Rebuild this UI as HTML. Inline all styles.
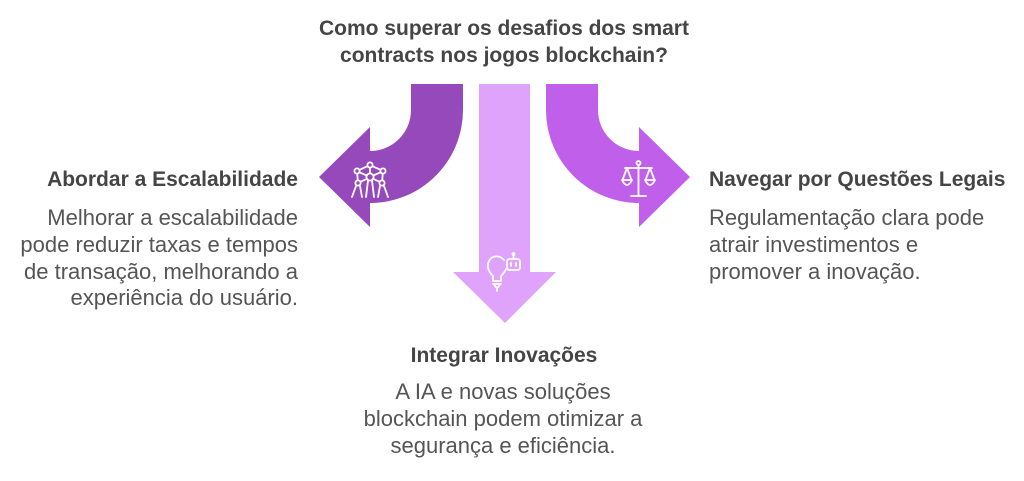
<!DOCTYPE html>
<html>
<head>
<meta charset="utf-8">
<style>
  html, body { margin: 0; padding: 0; background: #ffffff; }
  body { width: 1024px; height: 481px; overflow: hidden; }
  svg { display: block; }
  .t { font-family: "Liberation Sans", Arial, sans-serif; }
  .title { font-size: 21px; font-weight: bold; fill: #454545; }
  .head { font-size: 21px; font-weight: bold; fill: #454545; }
  .body { font-size: 22px; fill: #555555; }
</style>
</head>
<body>
<svg width="1024" height="481" viewBox="0 0 1024 481" xmlns="http://www.w3.org/2000/svg">
  <rect width="1024" height="481" fill="#ffffff"/>

  <!-- Title -->
  <text class="t title" x="504" y="35" text-anchor="middle">Como superar os desafios dos smart</text>
  <text class="t title" x="504" y="62" text-anchor="middle">contracts nos jogos blockchain?</text>

  <!-- Left arrow -->
  <path d="M411,84 H463 V110 A93,93 0 0 1 370,203 V227 L319,177 L370,127 V151 A41,41 0 0 0 411,110 Z" fill="#9549BA"/>
  <!-- Middle arrow -->
  <path d="M479,84 H530 V272 H556 L505,323 L453,272 H479 Z" fill="#E0A3FC"/>
  <!-- Right arrow -->
  <path d="M598,84 H546 V110 A93,93 0 0 0 639,203 V227 L690,177 L639,127 V151 A41,41 0 0 1 598,110 Z" fill="#C060EA"/>

  <!-- People / atomium icon -->
  <g fill="none" stroke="#ffffff" stroke-width="1.8" stroke-linecap="round" stroke-linejoin="round">
    <circle cx="370" cy="165" r="2.6"/>
    <circle cx="357" cy="171" r="2.6"/>
    <circle cx="383" cy="171" r="2.6"/>
    <circle cx="370" cy="177" r="3.6"/>
    <circle cx="358" cy="183" r="2.6"/>
    <circle cx="382" cy="183" r="2.6"/>
    <line x1="367.7" y1="166.2" x2="359.4" y2="169.8"/>
    <line x1="372.3" y1="166.2" x2="380.6" y2="169.8"/>
    <line x1="370" y1="167.6" x2="370" y2="173.4"/>
    <line x1="359.4" y1="172.3" x2="366.8" y2="175.5"/>
    <line x1="380.6" y1="172.3" x2="373.2" y2="175.5"/>
    <line x1="357.3" y1="173.6" x2="357.7" y2="180.4"/>
    <line x1="382.7" y1="173.6" x2="382.3" y2="180.4"/>
    <line x1="360.4" y1="181.8" x2="366.9" y2="178.8"/>
    <line x1="379.6" y1="181.8" x2="373.1" y2="178.8"/>
    <path d="M356,186 L352,197 M360,186 L362,197"/>
    <path d="M384,186 L388,197 M380,186 L378,197"/>
    <path d="M368,180.5 L366,197 M372,180.5 L374,197"/>
  </g>

  <!-- Scale icon -->
  <g fill="none" stroke="#ffffff" stroke-width="1.8" stroke-linecap="round" stroke-linejoin="round">
    <circle cx="638.5" cy="163" r="2"/>
    <line x1="638.5" y1="165" x2="638.5" y2="195"/>
    <line x1="631" y1="196" x2="646" y2="196"/>
    <line x1="625" y1="168" x2="652" y2="168"/>
    <path d="M627,168 L622.5,180 M627,168 L631.5,180"/>
    <path d="M622,180 H632 Q627,190 622,180 Z"/>
    <path d="M650,168 L645.5,180 M650,168 L654.5,180"/>
    <path d="M645,180 H655 Q650,190 645,180 Z"/>
  </g>

  <!-- Bulb + robot icon -->
  <g fill="none" stroke="#ffffff" stroke-width="1.8" stroke-linecap="round" stroke-linejoin="round">
    <path d="M504,260 C500,255 492,255 489,261 C486,267 489,272 493,276 V281 H501 V276 C503,274 505,272 506,269"/>
    <path d="M493,284 H501"/>
    <path d="M494,284 Q497,291 500,284"/>
    <line x1="497" y1="288" x2="497" y2="291"/>
    <rect x="507" y="259" width="13" height="11" rx="2.5"/>
    <line x1="513.5" y1="255" x2="513.5" y2="259"/>
    <circle cx="513.5" cy="254" r="1" fill="#ffffff"/>
    <line x1="511" y1="263" x2="511" y2="266"/>
    <line x1="516" y1="263" x2="516" y2="266"/>
  </g>

  <!-- Left text block -->
  <text class="t head" x="298" y="186" text-anchor="end">Abordar a Escalabilidade</text>
  <text class="t body" x="298" y="225" text-anchor="end">Melhorar a escalabilidade</text>
  <text class="t body" x="298" y="252" text-anchor="end">pode reduzir taxas e tempos</text>
  <text class="t body" x="298" y="279" text-anchor="end">de transação, melhorando a</text>
  <text class="t body" x="298" y="305" text-anchor="end">experiência do usuário.</text>

  <!-- Right text block -->
  <text class="t head" x="709" y="186">Navegar por Questões Legais</text>
  <text class="t body" x="709" y="225">Regulamentação clara pode</text>
  <text class="t body" x="709" y="252">atrair investimentos e</text>
  <text class="t body" x="709" y="279">promover a inovação.</text>

  <!-- Bottom text block -->
  <text class="t head" x="504" y="362" text-anchor="middle">Integrar Inovações</text>
  <text class="t body" x="503" y="399" text-anchor="middle">A IA e novas soluções</text>
  <text class="t body" x="503" y="426" text-anchor="middle">blockchain podem otimizar a</text>
  <text class="t body" x="503" y="453" text-anchor="middle">segurança e eficiência.</text>
</svg>
</body>
</html>
